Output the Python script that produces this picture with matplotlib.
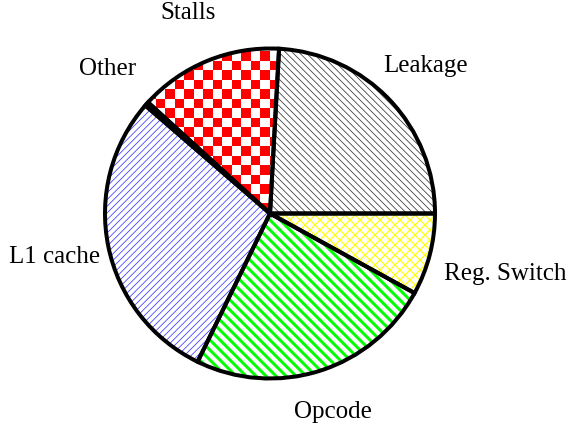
import numpy as np
import matplotlib
matplotlib.use("Agg")
import matplotlib.pyplot as plt

# pie slices, counter-clockwise from 3 o'clock
labels = ['Leakage', 'Stalls', 'Other', 'L1 cache', 'Opcode', 'Reg. Switch']
shares = [24.1, 14.1, 0.4, 29.1, 24.2, 8.0]

# styling
hatch_colors = ['#333333', 'red', '#5a2a2a', '#3333ff', '#00ff00', '#ffff00']
hatches = ['\\' * 6, '', '/' * 6, '/' * 6, '\\' * 4, 'x' * 4]
hatch_widths = [0.45, 1.0, 0.8, 0.45, 1.8, 0.7]
label_dist = [1.30, 1.31, 1.32, 1.33, 1.26, 1.47]

plt.rcParams['font.family'] = ['Liberation Serif', 'DejaVu Serif']

fig = plt.figure(figsize=(584 / 120, 434 / 120), dpi=120)
ax = fig.add_axes([105 / 584, (434 - 378.5) / 434, 330 / 584, 330 / 434])

# hatched fills
fills, _ = ax.pie(shares, startangle=0, counterclock=True,
                  colors=['white'] * len(shares), wedgeprops=dict(linewidth=0))
for w, hc, h, hw in zip(fills, hatch_colors, hatches, hatch_widths):
    w.set_edgecolor(hc)
    w.set_hatch(h)
    if hasattr(w, 'set_hatch_linewidth'):
        w.set_hatch_linewidth(hw)
    w.set_clip_on(False)

# red checkerboard for Stalls
fills[1].set_facecolor('none')
n = 34
ii, jj = np.indices((n, n))
checker = np.where((ii + jj) % 2 == 0, 1.0, 0.0)
cmap = matplotlib.colors.ListedColormap(['white', 'red'])
im = ax.imshow(checker, cmap=cmap, extent=[-0.98, 0.98, -0.98, 0.98],
               interpolation='nearest', zorder=1.5)
im.set_clip_path(fills[1])

# black outlines
edges, _ = ax.pie(shares, startangle=0, counterclock=True,
                  wedgeprops=dict(fill=False, edgecolor='black', linewidth=2.4))
for w in edges:
    w.set_zorder(3)
    w.set_clip_on(False)

for w, lab, d in zip(edges, labels, label_dist):
    ang = np.deg2rad((w.theta1 + w.theta2) / 2)
    ax.text(d * np.cos(ang), d * np.sin(ang), lab, ha='center', va='center',
            fontsize=15, clip_on=False)

ax.set_xlim(-1, 1)
ax.set_ylim(-1, 1)
ax.set_aspect('equal')
ax.axis('off')

fig.savefig('out.png', dpi=120)
